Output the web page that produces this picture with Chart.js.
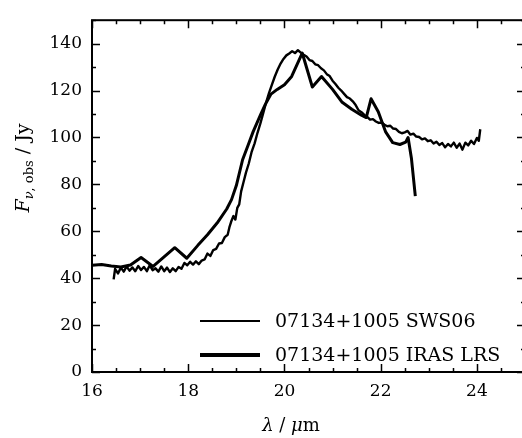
<!DOCTYPE html>
<html>
<head>
<meta charset="utf-8">
<script src="https://cdn.jsdelivr.net/npm/chart.js@4.4.0/dist/chart.umd.min.js"></script>
<style>
  html, body { margin: 0; padding: 0; background: #fff; overflow: hidden; }
  #wrap { width: 540px; height: 438px; }
</style>
</head>
<body>
<div id="wrap"><canvas id="sedChart" width="540" height="438"></canvas></div>
<script>
// ========== data ==========
const seriesNames = ['07134+1005 SWS06', '07134+1005 IRAS LRS'];

// ISO SWS06 spectrum (dense, noisy)
const swsLambda = [16.45, 16.48, 16.54, 16.6, 16.66, 16.72, 16.78, 16.84, 16.9, 16.96,
  17.02, 17.08, 17.14, 17.2, 17.26, 17.32, 17.38, 17.44, 17.5, 17.56,
  17.62, 17.68, 17.74, 17.8, 17.86, 17.92, 17.98, 18.04, 18.1, 18.16,
  18.22, 18.28, 18.34, 18.4, 18.46, 18.52, 18.58, 18.64, 18.7, 18.76,
  18.82, 18.86, 18.9, 18.94, 18.98, 19.02, 19.06, 19.1, 19.15, 19.2,
  19.26, 19.32, 19.38, 19.44, 19.5, 19.56, 19.62, 19.68, 19.74, 19.8,
  19.86, 19.92, 19.98, 20.04, 20.1, 20.16, 20.22, 20.28, 20.34, 20.4,
  20.46, 20.52, 20.58, 20.64, 20.7, 20.76, 20.82, 20.88, 20.94, 21.0,
  21.06, 21.12, 21.18, 21.24, 21.3, 21.36, 21.42, 21.48, 21.54, 21.6,
  21.66, 21.72, 21.78, 21.84, 21.9, 21.96, 22.02, 22.08, 22.14, 22.2,
  22.26, 22.32, 22.38, 22.44, 22.5, 22.56, 22.62, 22.68, 22.74, 22.8,
  22.86, 22.92, 22.98, 23.04, 23.1, 23.16, 23.22, 23.28, 23.34, 23.4,
  23.46, 23.52, 23.58, 23.64, 23.7, 23.76, 23.82, 23.88, 23.94, 24.0,
  24.04, 24.07];
const swsFlux = [39.5, 44, 42, 44.5, 42.8, 45, 43.2, 44.6, 43, 45.2,
  43.5, 44.8, 43, 45.5, 43.4, 44.2, 42.8, 45, 43, 44.5,
  42.6, 44.2, 43, 44.8, 44, 46.5, 45.5, 47, 45.8, 47.2,
  46, 47.5, 48, 50.5, 49.5, 52, 52.5, 54.8, 55, 57.5,
  58.5, 62, 64.5, 66.5, 65, 70, 71.5, 77, 81, 85,
  89, 94, 97.5, 102, 106, 110.5, 115, 119, 122.5, 126,
  129, 131.5, 133.5, 135, 135.8, 136.8, 136, 137.2, 136.2, 135.2,
  134.5, 133, 132.6, 131.2, 130.8, 129.5, 128.6, 127, 126.2, 124.2,
  122.8, 121.2, 120, 118.6, 117.2, 116.6, 115.4, 113.8, 111.6, 110.8,
  109.6, 108.8, 107.6, 107.8, 106.8, 106.2, 106.4, 105.4, 104.8, 105,
  103.8, 103.6, 102.4, 101.8, 102.2, 102.8, 101.2, 101.6, 100.4, 100.2,
  99.2, 99.6, 98.4, 98.8, 97.4, 98.2, 96.8, 97.6, 95.8, 97.2,
  96.2, 97.8, 95.6, 97.4, 94.8, 97.8, 96.6, 98.6, 97.2, 99.8,
  98.6, 103.5];

// IRAS LRS spectrum (coarse)
const lrsLambda = [16.0, 16.2, 16.4, 16.6, 16.8, 17.02, 17.27, 17.72, 17.97, 18.2,
  18.4, 18.6, 18.8, 18.9, 19.0, 19.13, 19.25, 19.35, 19.5, 19.6,
  19.72, 19.85, 20.0, 20.15, 20.37, 20.58, 20.77, 21.0, 21.2, 21.4,
  21.6, 21.7, 21.8, 21.95, 22.1, 22.25, 22.4, 22.52, 22.57, 22.64, 22.72];
const lrsFlux = [45.5, 45.8, 45.2, 44.8, 45.6, 48.8, 45, 53, 48.5, 54,
  58.5, 63.5, 69.5, 73.5, 79.5, 90.5, 97, 102.5, 109.5, 114,
  118.5, 120.5, 122.5, 126, 136, 121.5, 126, 120.5, 115, 112,
  109.5, 108.5, 116.5, 111, 102.5, 97.8, 97, 98, 100, 91, 75];

const xTicks = [16, 18, 20, 22, 24];
const yTicks = [0, 20, 40, 60, 80, 100, 120, 140];

// ========== chart ==========
const SERIF = '"DejaVu Serif", "Liberation Serif", serif';
Chart.defaults.font.family = SERIF;
Chart.defaults.font.size = 17;
Chart.defaults.color = '#000';

function toPoints(xs, ys) { return xs.map(function(x, i) { return { x: x, y: ys[i] }; }); }

// draws a list of text runs (mixed italic/roman/subscript) centred on x
function drawRuns(ctx, runs, x, y) {
    var total = 0;
    runs.forEach(function(r) { ctx.font = r.font; total += ctx.measureText(r.text).width; });
    var cx = x - total / 2;
    runs.forEach(function(r) {
        ctx.font = r.font;
        ctx.fillText(r.text, cx, y + (r.dy || 0));
        cx += ctx.measureText(r.text).width;
    });
}

// box + inward ticks on all four sides, minor ticks included
const frameTicks = {
    id: 'frameTicks',
    afterDatasetsDraw: function(chart) {
        var ctx = chart.ctx, a = chart.chartArea;
        var xs = chart.scales.x, ys = chart.scales.y;
        ctx.save();
        ctx.strokeStyle = '#000';
        ctx.lineWidth = 2;
        ctx.strokeRect(a.left, a.top, a.right - a.left, a.bottom - a.top);
        ctx.lineWidth = 1.5;
        ctx.beginPath();
        for (var i = 0; i <= 18; i++) {
            var v = 16 + i * 0.5;
            var len = (v % 2 === 0) ? 8 : 4;
            var px = Math.round(xs.getPixelForValue(v)) + 0.5;
            ctx.moveTo(px, a.bottom); ctx.lineTo(px, a.bottom - len);
            ctx.moveTo(px, a.top); ctx.lineTo(px, a.top + len);
        }
        for (var j = 0; j <= 15; j++) {
            var w = j * 10;
            var l2 = (w % 20 === 0) ? 8 : 4;
            var py = Math.round(ys.getPixelForValue(w)) + 0.5;
            ctx.moveTo(a.left, py); ctx.lineTo(a.left + l2, py);
            ctx.moveTo(a.right, py); ctx.lineTo(a.right - l2, py);
        }
        ctx.stroke();
        ctx.restore();
    }
};

// axis titles with italic symbols and subscript
const axisTitles = {
    id: 'axisTitles',
    afterDraw: function(chart) {
        var ctx = chart.ctx;
        ctx.save();
        ctx.fillStyle = '#000';
        ctx.textBaseline = 'alphabetic';
        ctx.textAlign = 'left';
        drawRuns(ctx, [
            { text: '\u03BB', font: 'italic 18px ' + SERIF },
            { text: ' / ', font: '18px ' + SERIF },
            { text: '\u03BC', font: 'italic 18px ' + SERIF },
            { text: 'm', font: '18px ' + SERIF }
        ], 291, 431);
        ctx.translate(29, 168);
        ctx.rotate(-Math.PI / 2);
        drawRuns(ctx, [
            { text: 'F', font: 'italic 19px ' + SERIF },
            { text: '\u03BD', font: 'italic 13px ' + SERIF, dy: 4 },
            { text: ', obs', font: '13px ' + SERIF, dy: 4 },
            { text: ' / Jy', font: '19px ' + SERIF }
        ], 0, 0);
        ctx.restore();
    }
};

// legend in the lower right of the plot
const cornerLegend = {
    id: 'cornerLegend',
    afterDraw: function(chart) {
        var ctx = chart.ctx, a = chart.chartArea;
        ctx.save();
        ctx.font = '19px ' + SERIF;
        ctx.fillStyle = '#000';
        ctx.textBaseline = 'middle';
        chart.data.datasets.forEach(function(ds, i) {
            var y = a.bottom - 51 + i * 34;
            ctx.strokeStyle = ds.borderColor;
            ctx.lineWidth = ds.legendWidth;
            ctx.beginPath();
            ctx.moveTo(200, y); ctx.lineTo(260, y);
            ctx.stroke();
            ctx.fillText(ds.label, 275, y + 1);
        });
        ctx.restore();
    }
};

new Chart(document.getElementById('sedChart').getContext('2d'), {
    type: 'line',
    data: {
        datasets: [{
            label: seriesNames[0],
            data: toPoints(swsLambda, swsFlux),
            borderColor: '#000',
            borderWidth: 2.4,
            legendWidth: 2,
            pointRadius: 0,
            tension: 0,
            borderJoinStyle: 'round'
        }, {
            label: seriesNames[1],
            data: toPoints(lrsLambda, lrsFlux),
            borderColor: '#000',
            borderWidth: 3,
            legendWidth: 4,
            pointRadius: 0,
            tension: 0,
            borderJoinStyle: 'round'
        }]
    },
    options: {
        responsive: false,
        animation: false,
        layout: { padding: { left: 0, top: 11, right: 15, bottom: 0 } },
        plugins: { legend: { display: false }, tooltip: { enabled: false } },
        scales: {
            x: {
                type: 'linear', min: 16, max: 25,
                grid: { display: false, drawTicks: false },
                border: { display: false },
                afterBuildTicks: function(s) { s.ticks = xTicks.map(function(v) { return { value: v }; }); },
                afterFit: function(s) { s.height = 66; },
                ticks: { padding: 9, maxRotation: 0, autoSkip: false }
            },
            y: {
                type: 'linear', min: 0, max: 150,
                grid: { display: false, drawTicks: false },
                border: { display: false },
                afterBuildTicks: function(s) { s.ticks = yTicks.map(function(v) { return { value: v }; }); },
                afterFit: function(s) { s.width = 92; },
                ticks: { padding: 10, autoSkip: false }
            }
        }
    },
    plugins: [frameTicks, axisTitles, cornerLegend]
});
</script>
</body>
</html>
